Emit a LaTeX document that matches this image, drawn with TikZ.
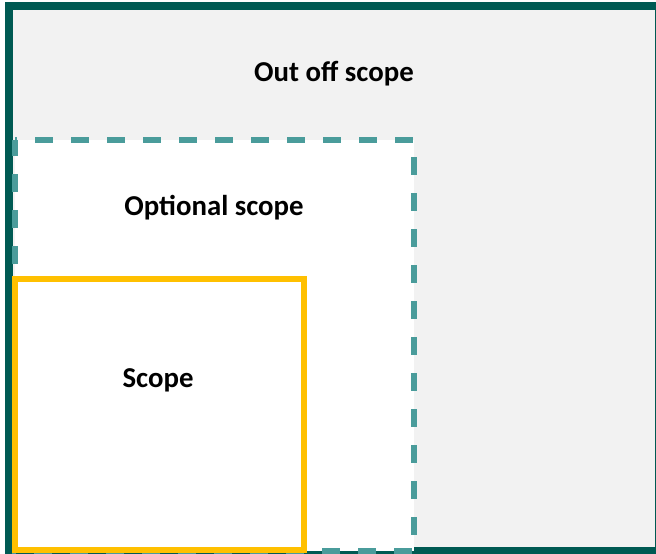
\documentclass[tikz,border=0pt]{standalone}
\usepackage{fontspec}
\setmainfont{Carlito}
\usepackage{tikz}
\usetikzlibrary{positioning}
\definecolor{darkteal}{HTML}{005A53}
\definecolor{lightteal}{HTML}{4A9C9B}
\definecolor{gold}{HTML}{FFC000}
\definecolor{paper}{HTML}{F2F2F2}
\tikzset{
  outerarea/.style={draw=darkteal, line width=8pt, fill=paper},
  optionalarea/.style={draw=lightteal, line width=6pt, fill=white,
    dash pattern=on 18pt off 18pt, dash phase=16pt},
  scopearea/.style={draw=gold, line width=6pt, fill=white},
  areatext/.style={font=\fontsize{28.8}{33}\selectfont\bfseries, anchor=base, inner sep=0pt},
}
\begin{document}
\begin{tikzpicture}[x=1pt,y=-1pt]
  \useasboundingbox (0,0) rectangle (656,554);
  \clip (0,0) rectangle (656,554);
  % areas
  \draw[outerarea] (9,6) rectangle (659,551);
  \draw[optionalarea] (15,140) -- (414,140) -- (414,551) -- (15,551) -- cycle;
  \draw[scopearea] (15,279) rectangle (304,550);
  % labels
  \node[areatext] (outlbl) at (334,81) {Out off scope};
  \node[areatext] (optlbl) at (214,215) {Optional scope};
  \node[areatext] (scopelbl) at (158,387) {Scope};
\end{tikzpicture}
\end{document}
